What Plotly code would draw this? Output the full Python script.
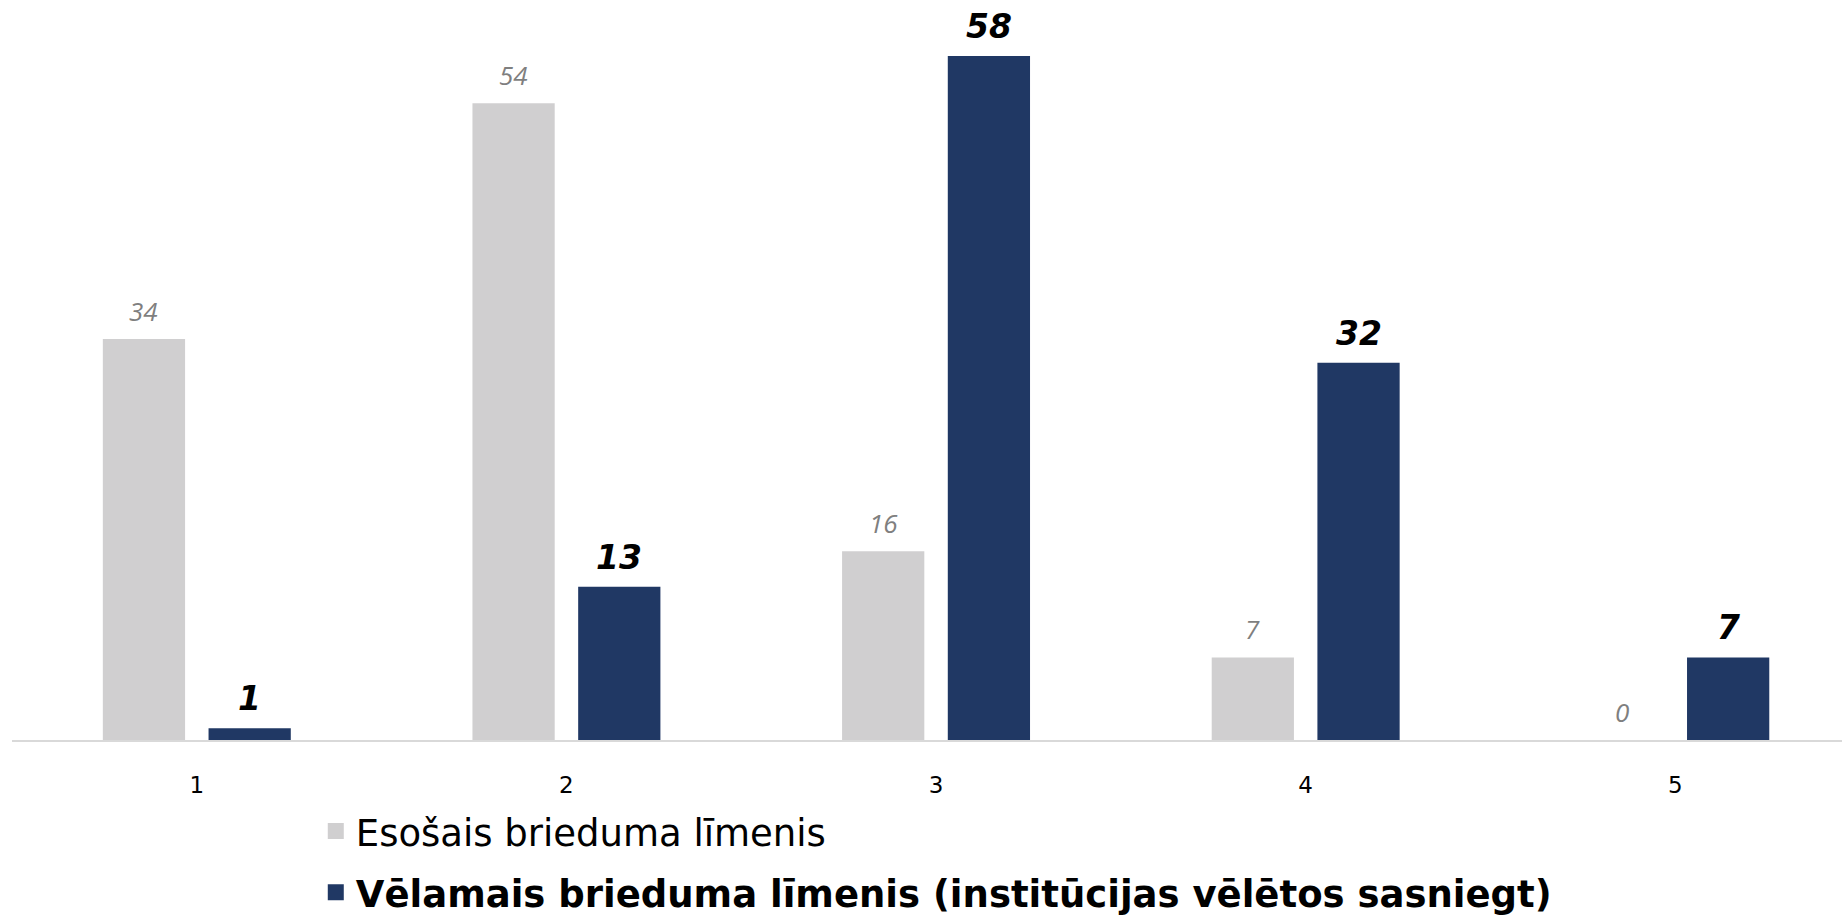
import plotly.graph_objects as go

categories = [1, 2, 3, 4, 5]
tick_labels = ["1", "2", "3", "4", "5"]
series_names = ["Esošais brieduma līmenis",
                "Vēlamais brieduma līmenis (institūcijas vēlētos sasniegt)"]
current_values = [34, 54, 16, 7, 0]
desired_values = [1, 13, 58, 32, 7]

GRAY = "#D0CFD0"
NAVY = "#203864"
BARGAP = 0.428
BARGROUPGAP = 0.222
slot = (1 - BARGAP) / 2  # width of one bar slot in category units

fig = go.Figure()
fig.add_trace(go.Bar(x=categories, y=current_values, name=series_names[0],
                     marker=dict(color=GRAY, line=dict(width=0)), showlegend=False))
fig.add_trace(go.Bar(x=categories, y=desired_values, name=series_names[1],
                     marker=dict(color=NAVY, line=dict(width=0)), showlegend=False))

# legend-only traces (bigger square symbols)
fig.add_trace(go.Scatter(x=[None], y=[None], mode="markers", name=series_names[0],
                         marker=dict(symbol="square", size=16, color=GRAY),
                         legendgroup="a"))
fig.add_trace(go.Scatter(x=[None], y=[None], mode="markers", name="<b>" + series_names[1] + "</b>",
                         marker=dict(symbol="square", size=16, color=NAVY),
                         legendgroup="b"))

annotations = []
for c, v in zip(categories, current_values):
    annotations.append(dict(x=c - slot / 2, y=v, text=str(v), showarrow=False,
                            xref="x", yref="y", yanchor="bottom", yshift=8,
                            font=dict(family="Open Sans", size=26, color="#7F7F7F",
                                      style="italic")))
for c, v in zip(categories, desired_values):
    annotations.append(dict(x=c + slot / 2, y=v, text=str(v), showarrow=False,
                            xref="x", yref="y", yanchor="bottom", yshift=8,
                            font=dict(family="DejaVu Sans", size=33, color="#000000",
                                      style="italic", weight="bold")))

fig.update_layout(
    width=1842, height=915,
    margin=dict(l=12, r=0, t=0, b=175, autoexpand=False),
    paper_bgcolor="white", plot_bgcolor="white",
    barmode="group", bargap=BARGAP, bargroupgap=BARGROUPGAP,
    annotations=annotations,
    showlegend=True,
    legend=dict(x=0.166, xanchor="left", y=-0.0818, yanchor="top",
                traceorder="grouped", tracegroupgap=10,
                font=dict(family="DejaVu Sans", size=37, color="#000000"),
                bgcolor="rgba(0,0,0,0)"),
    xaxis=dict(range=[0.5, 5.451], tickmode="array", tickvals=categories,
               ticktext=tick_labels, showgrid=False, zeroline=False,
               showline=True, linecolor="#D9D9D9", linewidth=2,
               ticks="", ticklabelstandoff=23, automargin=False,
               tickfont=dict(family="DejaVu Sans", size=23, color="#000000")),
    yaxis=dict(range=[0, 62.76], visible=False, showgrid=False, zeroline=False,
               automargin=False),
)

fig.write_html("out.html", config={"displayModeBar": False},
               post_script="document.body.style.margin='0';document.body.style.overflow='hidden';")
